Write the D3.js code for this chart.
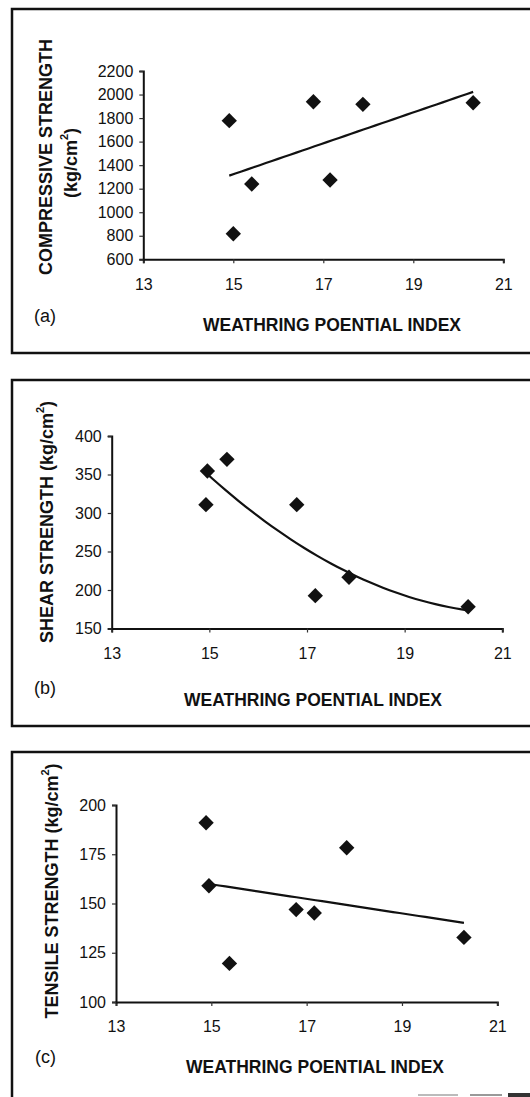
<!DOCTYPE html>
<html>
<head>
<meta charset="utf-8">
<script src="https://cdn.jsdelivr.net/npm/d3@7"></script>
<style>
  html, body { margin: 0; padding: 0; background: #fff; }
  svg { display: block; }
  text { font-family: "Liberation Sans", Arial, sans-serif; fill: #111; }
</style>
</head>
<body>
<svg id="chart" width="530" height="1097"></svg>
<script>
// ---------- data ----------
const xTicks = [13, 15, 17, 19, 21];

const wpiA = [14.91, 15.0, 15.41, 16.78, 17.15, 17.88, 20.33];
const compressive = [1778, 817, 1240, 1939, 1274, 1917, 1930];
const compTicks = [600, 800, 1000, 1200, 1400, 1600, 1800, 2000, 2200];

const wpiB = [14.96, 14.93, 15.36, 16.79, 17.17, 17.86, 20.30];
const shear = [354.5, 310.8, 369.7, 310.8, 192.6, 216.5, 178.3];
const shearTicks = [150, 200, 250, 300, 350, 400];

const wpiC = [14.89, 14.95, 15.38, 16.78, 17.16, 17.84, 20.30];
const tensile = [191, 159, 119.6, 146.9, 145.2, 178.3, 132.8];
const tensTicks = [100, 125, 150, 175, 200];

const xTitle = "WEATHRING POENTIAL INDEX";

// ---------- helpers ----------
function linFit(xs, ys) {
  const n = xs.length, mx = d3.mean(xs), my = d3.mean(ys);
  let sxy = 0, sxx = 0;
  for (let i = 0; i < n; i++) { sxy += (xs[i]-mx)*(ys[i]-my); sxx += (xs[i]-mx)**2; }
  const b = sxy / sxx;
  return x => my + b * (x - mx);
}
function quadFit(xs, ys) {
  const m = d3.mean(xs);
  const u = xs.map(x => x - m);
  const S = k => d3.sum(u, v => v ** k);
  const T = k => d3.sum(u, (v, i) => (v ** k) * ys[i]);
  const A = [[xs.length, S(1), S(2)], [S(1), S(2), S(3)], [S(2), S(3), S(4)]];
  const B = [T(0), T(1), T(2)];
  const M = A.map((r, i) => [...r, B[i]]);
  for (let i = 0; i < 3; i++) {
    for (let j = i + 1; j < 3; j++) {
      const f = M[j][i] / M[i][i];
      for (let k = i; k < 4; k++) M[j][k] -= f * M[i][k];
    }
  }
  const c = [0, 0, 0];
  for (let i = 2; i >= 0; i--) {
    let s = M[i][3];
    for (let k = i + 1; k < 3; k++) s -= M[i][k] * c[k];
    c[i] = s / M[i][i];
  }
  return x => c[0] + c[1] * (x - m) + c[2] * (x - m) ** 2;
}

const svg = d3.select("#chart");
svg.append("rect").attr("width", 530).attr("height", 1097).attr("fill", "#fff");

function panel(cfg) {
  const g = svg.append("g");
  g.append("rect").attr("x", cfg.frame[0]).attr("y", cfg.frame[1])
    .attr("width", cfg.frame[2]).attr("height", cfg.frame[3])
    .attr("fill", "none").attr("stroke", "#111").attr("stroke-width", 2.5);

  const x = d3.scaleLinear().domain([13, 21]).range(cfg.xr);
  const y = d3.scaleLinear().domain(cfg.yd).range(cfg.yr);

  const ax = g.append("g").attr("transform", `translate(0,${cfg.yr[0]})`)
    .call(d3.axisBottom(x).tickValues(xTicks).tickSize(4).tickPadding(15).tickFormat(d3.format("d")));
  const ay = g.append("g").attr("transform", `translate(${cfg.xr[0]},0)`)
    .call(d3.axisLeft(y).tickValues(cfg.yTicks).tickSize(4).tickPadding(6).tickFormat(d3.format("d")));
  [ax, ay].forEach(a => {
    a.select(".domain").attr("stroke", "#111").attr("stroke-width", 2);
    a.selectAll(".tick line").attr("stroke", "#333").attr("stroke-width", 1.2);
    a.selectAll(".tick text").style("font-size", "16px").style("font-family", '"Liberation Sans", Arial, sans-serif').attr("fill", "#111");
  });

  const xs = cfg.xs, ys = cfg.ys;
  const f = cfg.fit(xs, ys);
  const [x0, x1] = d3.extent(xs);
  const pts = d3.range(0, 41).map(i => x0 + (x1 - x0) * i / 40);
  g.append("path").datum(pts)
    .attr("d", d3.line().x(d => x(d)).y(d => y(f(d))))
    .attr("fill", "none").attr("stroke", "#111").attr("stroke-width", 2.2);

  g.selectAll(".pt").data(xs.map((v, i) => [v, ys[i]])).enter().append("path")
    .attr("d", d3.symbol(d3.symbolDiamond2, 150)())
    .attr("transform", d => `translate(${x(d[0])},${y(d[1])})`)
    .attr("fill", "#111");

  cfg.ylabel.forEach(l => {
    const t = g.append("text")
      .attr("transform", `translate(${l.x},${l.y}) rotate(-90)`)
      .attr("text-anchor", "middle").attr("dominant-baseline", "central")
      .style("font-size", "18px").style("font-weight", "bold");
    t.append("tspan").text(l.t);
    if (l.sup) {
      t.append("tspan").text("2").style("font-size", "11px").attr("dy", -7);
      t.append("tspan").text(")").attr("dy", 7);
    }
  });
  g.append("text").attr("x", cfg.letter[0]).attr("y", cfg.letter[1])
    .style("font-size", "18px").text(cfg.letter[2]);
  g.append("text").attr("x", cfg.title[0]).attr("y", cfg.title[1])
    .attr("text-anchor", "middle").style("font-size", "17.5px").style("font-weight", "bold")
    .text(xTitle);
}

panel({
  frame: [12, 9, 530, 344],
  xr: [143.3, 503.3], yd: [600, 2200], yr: [259.3, 71], yTicks: compTicks,
  xs: wpiA, ys: compressive, fit: linFit,
  ylabel: [{ x: 46, y: 157, t: "COMPRESSIVE STRENGTH" }, { x: 71, y: 163, t: "(kg/cm", sup: true }],
  letter: [34, 322, "(a)"], title: [332, 331]
});
panel({
  frame: [12, 380, 530, 346],
  xr: [111.7, 502.3], yd: [150, 400], yr: [628.5, 436], yTicks: shearTicks,
  xs: wpiB, ys: shear, fit: quadFit,
  ylabel: [{ x: 47, y: 522, t: "SHEAR STRENGTH (kg/cm", sup: true }],
  letter: [34, 694, "(b)"], title: [313, 706]
});
panel({
  frame: [12, 752, 530, 400],
  xr: [116, 497.3], yd: [100, 200], yr: [1002, 805], yTicks: tensTicks,
  xs: wpiC, ys: tensile, fit: linFit,
  ylabel: [{ x: 52, y: 891, t: "TENSILE STRENGTH (kg/cm", sup: true }],
  letter: [35, 1063, "(c)"], title: [315, 1073]
});

// scan edge marks at the bottom right of the page
svg.append("rect").attr("x", 418).attr("y", 1094).attr("width", 40).attr("height", 2).attr("fill", "#bbb");
svg.append("rect").attr("x", 470).attr("y", 1094).attr("width", 32).attr("height", 2).attr("fill", "#999");
svg.append("rect").attr("x", 508).attr("y", 1093).attr("width", 22).attr("height", 4).attr("fill", "#333");
</script>
</body>
</html>
